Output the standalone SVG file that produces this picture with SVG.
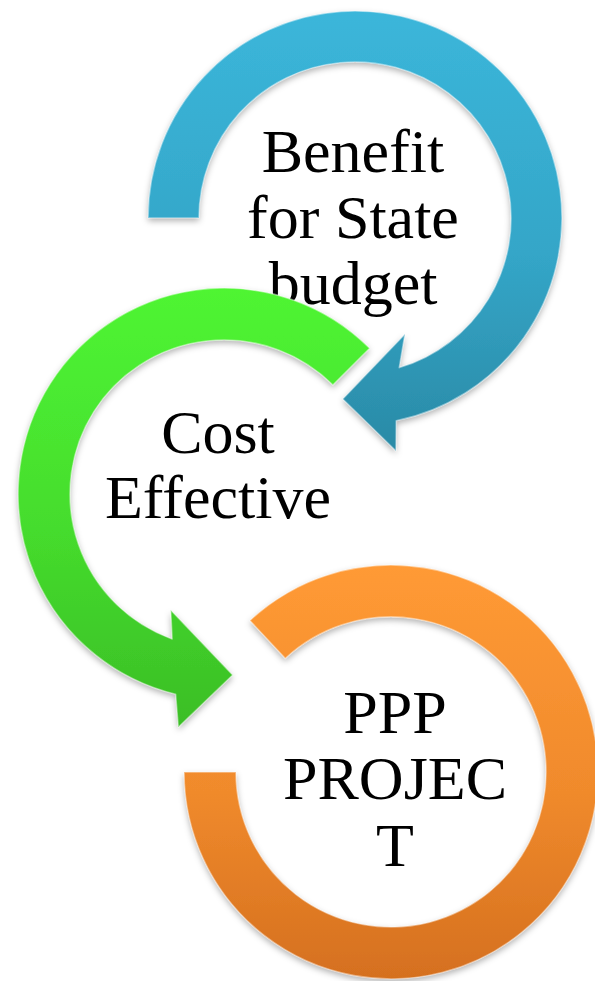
<svg xmlns="http://www.w3.org/2000/svg" width="595" height="981" viewBox="0 0 595 981">
  <style>
    .lbl { font-family: "Liberation Serif", "Times New Roman", serif; font-size: 62px; fill: #000; text-anchor: middle; }
    .edge { fill: none; stroke: #ffffff; stroke-opacity: 0.45; stroke-width: 1.6; stroke-linejoin: round; }
  </style>
  <defs>
    <linearGradient id="gBlue" gradientUnits="userSpaceOnUse" x1="0" y1="11" x2="0" y2="451">
      <stop offset="0" stop-color="#3BB6DA"/>
      <stop offset="0.55" stop-color="#34A6C8"/>
      <stop offset="1" stop-color="#2A8AA6"/>
    </linearGradient>
    <linearGradient id="gGreen" gradientUnits="userSpaceOnUse" x1="0" y1="288" x2="0" y2="727">
      <stop offset="0" stop-color="#4FF533"/>
      <stop offset="0.55" stop-color="#45DC2D"/>
      <stop offset="1" stop-color="#3BBE26"/>
    </linearGradient>
    <linearGradient id="gOrange" gradientUnits="userSpaceOnUse" x1="0" y1="565" x2="0" y2="979">
      <stop offset="0" stop-color="#FF9A35"/>
      <stop offset="0.55" stop-color="#F08A2C"/>
      <stop offset="1" stop-color="#D5701F"/>
    </linearGradient>
    <filter id="shadow" x="-10%" y="-10%" width="120%" height="120%">
      <feDropShadow dx="0" dy="3" stdDeviation="3" flood-color="#000" flood-opacity="0.3"/>
    </filter>
  </defs>

  <g id="node-benefit">
    <path filter="url(#shadow)" fill="url(#gBlue)" d="M148,218 A207,207 0 1 1 396.3,420.8 L396,451 L342.7,399 L405,334 L399.3,367.6 A156,156 0 1 0 199,218 Z"/>
    <path class="edge" d="M148,218 A207,207 0 1 1 396.3,420.8 L396,451 L342.7,399 L405,334 L399.3,367.6 A156,156 0 1 0 199,218 Z"/>
    <text class="lbl" x="353" y="172">Benefit</text>
    <text class="lbl" x="353" y="238">for State</text>
    <text class="lbl" x="353" y="304">budget</text>
  </g>

  <g id="node-cost">
    <path filter="url(#shadow)" fill="url(#gGreen)" d="M369.7,348.3 A206,206 0 1 0 175.6,694.2 L178.3,727.3 L232.7,675 L170.7,610 L172.1,639 A154,154 0 1 1 332.9,385.1 Z"/>
    <path class="edge" d="M369.7,348.3 A206,206 0 1 0 175.6,694.2 L178.3,727.3 L232.7,675 L170.7,610 L172.1,639 A154,154 0 1 1 332.9,385.1 Z"/>
    <text class="lbl" x="218" y="453">Cost</text>
    <text class="lbl" x="218" y="518">Effective</text>
  </g>

  <g id="node-ppp">
    <path filter="url(#shadow)" fill="url(#gOrange)" d="M249.8,620.6 A207,207 0 1 1 184,772 L236,772 A155,155 0 1 0 285.3,658.6 Z"/>
    <path class="edge" d="M249.8,620.6 A207,207 0 1 1 184,772 L236,772 A155,155 0 1 0 285.3,658.6 Z"/>
    <text class="lbl" x="395" y="733">PPP</text>
    <text class="lbl" x="395" y="799">PROJEC</text>
    <text class="lbl" x="395" y="866">T</text>
  </g>

  <g id="connectors"/>
</svg>
